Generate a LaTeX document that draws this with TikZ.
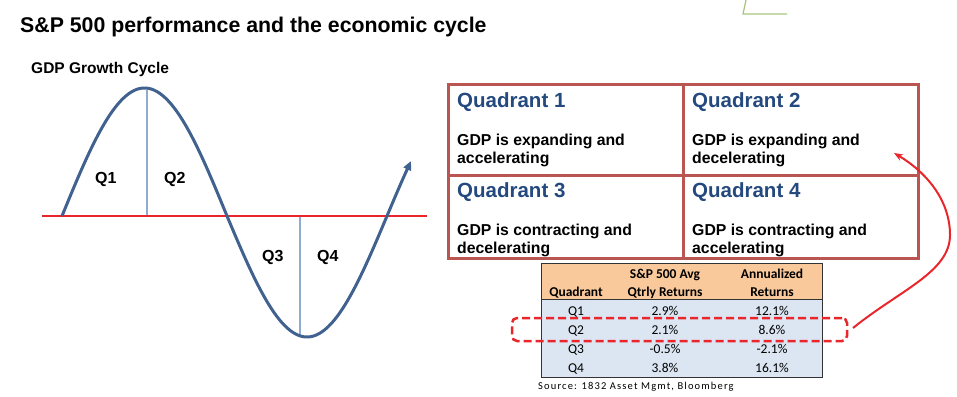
\documentclass[tikz,border=0pt]{standalone}
\usepackage{fontspec}
\setmainfont{Liberation Sans}
\newfontfamily\calfont{Carlito}
\newfontfamily\srcfont[LetterSpace=11]{Carlito}
\usetikzlibrary{arrows.meta}
\definecolor{curveblue}{HTML}{41618F}
\definecolor{thinblue}{HTML}{8FACCF}
\definecolor{axisred}{HTML}{E8262B}
\definecolor{quadborder}{HTML}{B95652}
\definecolor{quadtitle}{HTML}{24497E}
\definecolor{hdrorange}{HTML}{F9C99B}
\definecolor{bodyblue}{HTML}{DCE6F2}
\definecolor{deco}{HTML}{A8C47C}
\begin{document}
\begin{tikzpicture}[x=1pt,y=-1pt,
  txt/.style={anchor=base west,inner sep=0pt},
  qlab/.style={txt,font=\bfseries\fontsize{16}{18}\selectfont},
  cell/.style={draw=quadborder,line width=3pt,inner sep=0pt},
  celltitle/.style={txt,text=quadtitle,font=\bfseries\fontsize{20.5}{24}\selectfont},
  cellbody/.style={txt,align=left,font=\bfseries\fontsize{15.8}{18}\selectfont},
  tbl/.style={anchor=base,inner sep=0pt,font=\calfont\fontsize{13.5}{16}\selectfont},
  tblh/.style={tbl,font=\calfont\bfseries\fontsize{13.5}{16}\selectfont},
  tblbox/.style={draw=black!80,line width=0.8pt,inner sep=0pt,minimum width=281pt},
  hlbox/.style={draw=axisred,line width=2.5pt,dash pattern=on 8pt off 4pt,rounded corners=5pt,inner sep=0pt,minimum width=335pt,minimum height=23pt},
  linkarrow/.style={draw=axisred,line width=2pt,-{Stealth[length=9pt,width=7pt]}}
]
\useasboundingbox (0,0) rectangle (957,396);

% decoration at top
\draw[deco,line width=1.2pt] (746,0) -- (743,14) -- (787,14);

% title
\node[txt,font=\bfseries\fontsize{21.3}{25}\selectfont] (title) at (20,33) {S\&P 500 performance and the economic cycle};
\node[txt,font=\bfseries\fontsize{15.5}{18}\selectfont] (gdplab) at (31,73) {GDP Growth Cycle};

% cycle diagram
\draw[thinblue,line width=1.2pt] (147,90) -- (147,216);
\draw[thinblue,line width=1.2pt] (300,216) -- (300,335);
\draw[axisred,line width=2.4pt] (42,216) -- (427,216);
\draw[curveblue,line width=3pt,-{Triangle[length=9pt,width=8pt]}]
  plot[domain=0:165,samples=90] ({62+\x},{216-128*sin(\x*1.090909)})
  -- plot[domain=0:184,samples=90] ({227+\x},{216+121*sin(\x*1.125)});
\node[qlab] (q1) at (95,183) {Q1};
\node[qlab] (q2) at (164,183) {Q2};
\node[qlab] (q3) at (262,261) {Q3};
\node[qlab] (q4) at (317,261) {Q4};

% quadrant grid
\node[cell,minimum width=235pt,minimum height=91pt] (c1) at (565.5,129.5) {};
\node[cell,minimum width=235pt,minimum height=91pt] (c2) at (800.5,129.5) {};
\node[cell,minimum width=235pt,minimum height=83pt] (c3) at (565.5,216.5) {};
\node[cell,minimum width=235pt,minimum height=83pt] (c4) at (800.5,216.5) {};
\node[celltitle] (t1) at (457,107) {Quadrant 1};
\node[celltitle] (t2) at (692,107) {Quadrant 2};
\node[celltitle] (t3) at (457,197) {Quadrant 3};
\node[celltitle] (t4) at (692,197) {Quadrant 4};
\node[cellbody] (b1) at (457,163) {GDP is expanding and\\accelerating};
\node[cellbody] (b2) at (692,163) {GDP is expanding and\\decelerating};
\node[cellbody] (b3) at (457,253) {GDP is contracting and\\decelerating};
\node[cellbody] (b4) at (692,253) {GDP is contracting and\\accelerating};

% table
\node[tblbox,fill=hdrorange,minimum height=36pt] (thead) at (681.5,281) {};
\node[tblbox,fill=bodyblue,minimum height=78pt] (tbody) at (681.5,338) {};
\node[tblh] (h2a) at (665,278) {S\&P 500 Avg};
\node[tblh] (h3a) at (772,278) {Annualized};
\node[tblh] (h1) at (576,296) {Quadrant};
\node[tblh] (h2b) at (665,296) {Qtrly Returns};
\node[tblh] (h3b) at (772,296) {Returns};
\node[tbl] (r1a) at (576,315) {Q1};
\node[tbl] (r1b) at (665,315) {2.9\%};
\node[tbl] (r1c) at (772,315) {12.1\%};
\node[tbl] (r2a) at (576,334) {Q2};
\node[tbl] (r2b) at (665,334) {2.1\%};
\node[tbl] (r2c) at (772,334) {8.6\%};
\node[tbl] (r3a) at (576,353) {Q3};
\node[tbl] (r3b) at (665,353) {-0.5\%};
\node[tbl] (r3c) at (772,353) {-2.1\%};
\node[tbl] (r4a) at (576,372) {Q4};
\node[tbl] (r4b) at (665,372) {3.8\%};
\node[tbl] (r4c) at (772,372) {16.1\%};
\node[txt,font=\srcfont\fontsize{10.5}{12}\selectfont] (src) at (538,389) {Source: 1832 Asset Mgmt, Bloomberg};

% highlight and link arrow
\node[hlbox] (hl) at (679.5,329.5) {};
\coordinate (aS) at (853,328);
\coordinate (aE) at (894,153);
\draw[linkarrow] (aS) .. controls (900,290) and (950,272) .. (950,235) .. controls (950,200) and (926,172) .. (aE);
\end{tikzpicture}
\end{document}
